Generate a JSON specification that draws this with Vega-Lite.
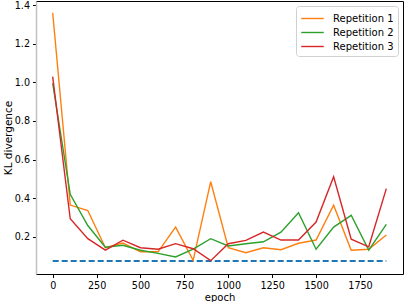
{
  "$schema": "https://vega.github.io/schema/vega-lite/v6.json",
  "autosize": "none",
  "width": 367,
  "height": 273,
  "padding": {"left": 36, "top": 1, "right": 1, "bottom": 28},
  "background": "white",
  "config": {
    "font": "DejaVu Sans",
    "view": {"stroke": "#000", "strokeWidth": 1},
    "axis": {
      "grid": false,
      "labelFont": "DejaVu Sans",
      "labelFontSize": 9.6,
      "labelColor": "#000",
      "tickColor": "#000",
      "tickSize": 3.5,
      "labelPadding": 3,
      "domainColor": "#000",
      "titleFont": "DejaVu Sans",
      "titleFontWeight": "normal",
      "titleColor": "#000",
      "titleFontSize": 10
    },
    "legend": {
      "labelFont": "DejaVu Sans",
      "labelFontSize": 10,
      "labelColor": "#000",
      "strokeColor": "#d0d0d0",
      "fillColor": "white",
      "padding": 4,
      "cornerRadius": 3,
      "symbolType": "M-1.5,0L1.5,0",
      "symbolSize": 225,
      "symbolOffset": 4,
      "symbolStrokeWidth": 1.8,
      "rowPadding": 0,
      "labelOffset": 12
    }
  },
  "datasets": {
    "runs": [
      {"epoch": 0, "kl": 1.36, "series": "Repetition 1"},
      {"epoch": 100, "kl": 0.364, "series": "Repetition 1"},
      {"epoch": 200, "kl": 0.336, "series": "Repetition 1"},
      {"epoch": 300, "kl": 0.143, "series": "Repetition 1"},
      {"epoch": 400, "kl": 0.167, "series": "Repetition 1"},
      {"epoch": 500, "kl": 0.122, "series": "Repetition 1"},
      {"epoch": 600, "kl": 0.122, "series": "Repetition 1"},
      {"epoch": 700, "kl": 0.25, "series": "Repetition 1"},
      {"epoch": 800, "kl": 0.078, "series": "Repetition 1"},
      {"epoch": 900, "kl": 0.485, "series": "Repetition 1"},
      {"epoch": 1000, "kl": 0.143, "series": "Repetition 1"},
      {"epoch": 1100, "kl": 0.117, "series": "Repetition 1"},
      {"epoch": 1200, "kl": 0.143, "series": "Repetition 1"},
      {"epoch": 1300, "kl": 0.133, "series": "Repetition 1"},
      {"epoch": 1400, "kl": 0.166, "series": "Repetition 1"},
      {"epoch": 1500, "kl": 0.183, "series": "Repetition 1"},
      {"epoch": 1600, "kl": 0.363, "series": "Repetition 1"},
      {"epoch": 1700, "kl": 0.13, "series": "Repetition 1"},
      {"epoch": 1800, "kl": 0.135, "series": "Repetition 1"},
      {"epoch": 1900, "kl": 0.209, "series": "Repetition 1"},
      {"epoch": 0, "kl": 0.995, "series": "Repetition 2"},
      {"epoch": 100, "kl": 0.42, "series": "Repetition 2"},
      {"epoch": 200, "kl": 0.258, "series": "Repetition 2"},
      {"epoch": 300, "kl": 0.146, "series": "Repetition 2"},
      {"epoch": 400, "kl": 0.156, "series": "Repetition 2"},
      {"epoch": 500, "kl": 0.13, "series": "Repetition 2"},
      {"epoch": 600, "kl": 0.114, "series": "Repetition 2"},
      {"epoch": 700, "kl": 0.095, "series": "Repetition 2"},
      {"epoch": 800, "kl": 0.136, "series": "Repetition 2"},
      {"epoch": 900, "kl": 0.19, "series": "Repetition 2"},
      {"epoch": 1000, "kl": 0.152, "series": "Repetition 2"},
      {"epoch": 1100, "kl": 0.164, "series": "Repetition 2"},
      {"epoch": 1200, "kl": 0.174, "series": "Repetition 2"},
      {"epoch": 1300, "kl": 0.224, "series": "Repetition 2"},
      {"epoch": 1400, "kl": 0.324, "series": "Repetition 2"},
      {"epoch": 1500, "kl": 0.135, "series": "Repetition 2"},
      {"epoch": 1600, "kl": 0.25, "series": "Repetition 2"},
      {"epoch": 1700, "kl": 0.311, "series": "Repetition 2"},
      {"epoch": 1800, "kl": 0.131, "series": "Repetition 2"},
      {"epoch": 1900, "kl": 0.264, "series": "Repetition 2"},
      {"epoch": 0, "kl": 1.029, "series": "Repetition 3"},
      {"epoch": 100, "kl": 0.293, "series": "Repetition 3"},
      {"epoch": 200, "kl": 0.19, "series": "Repetition 3"},
      {"epoch": 300, "kl": 0.131, "series": "Repetition 3"},
      {"epoch": 400, "kl": 0.182, "series": "Repetition 3"},
      {"epoch": 500, "kl": 0.143, "series": "Repetition 3"},
      {"epoch": 600, "kl": 0.135, "series": "Repetition 3"},
      {"epoch": 700, "kl": 0.164, "series": "Repetition 3"},
      {"epoch": 800, "kl": 0.138, "series": "Repetition 3"},
      {"epoch": 900, "kl": 0.076, "series": "Repetition 3"},
      {"epoch": 1000, "kl": 0.164, "series": "Repetition 3"},
      {"epoch": 1100, "kl": 0.181, "series": "Repetition 3"},
      {"epoch": 1200, "kl": 0.224, "series": "Repetition 3"},
      {"epoch": 1300, "kl": 0.183, "series": "Repetition 3"},
      {"epoch": 1400, "kl": 0.183, "series": "Repetition 3"},
      {"epoch": 1500, "kl": 0.276, "series": "Repetition 3"},
      {"epoch": 1600, "kl": 0.511, "series": "Repetition 3"},
      {"epoch": 1700, "kl": 0.187, "series": "Repetition 3"},
      {"epoch": 1800, "kl": 0.148, "series": "Repetition 3"},
      {"epoch": 1900, "kl": 0.449, "series": "Repetition 3"}
    ],
    "baseline": [
      {"epoch": 0, "kl": 0.074},
      {"epoch": 1900, "kl": 0.074}
    ]
  },
  "layer": [
    {
      "data": {"name": "baseline"},
      "mark": {"type": "line", "color": "#1f77b4", "strokeWidth": 2, "strokeDash": [6, 3]},
      "encoding": {
        "x": {"field": "epoch", "type": "quantitative"},
        "y": {"field": "kl", "type": "quantitative"}
      }
    },
    {
      "data": {"name": "runs"},
      "mark": {"type": "line"},
      "encoding": {
        "x": {
          "field": "epoch",
          "type": "quantitative",
          "title": "epoch",
          "scale": {"domain": [-95, 1995], "nice": false, "zero": false},
          "axis": {"values": [0, 250, 500, 750, 1000, 1250, 1500, 1750], "format": "d", "titlePadding": 2, "domain": false}
        },
        "y": {
          "field": "kl",
          "type": "quantitative",
          "title": "KL divergence",
          "scale": {"domain": [0.007, 1.421], "nice": false, "zero": false},
          "axis": {"values": [0.2, 0.4, 0.6, 0.8, 1.0, 1.2, 1.4], "format": ".1f", "titleFontSize": 10.5, "titlePadding": 1, "domainColor": "#c0c0c0", "domainWidth": 1.5}
        },
        "color": {
          "field": "series",
          "type": "nominal",
          "scale": {"domain": ["Repetition 1", "Repetition 2", "Repetition 3"], "range": ["#ff7f0e", "#2ca02c", "#d62728"]},
          "legend": {"title": null, "orient": "top-right", "offset": 5}
        },
        "strokeWidth": {
          "field": "series",
          "type": "nominal",
          "scale": {"domain": ["Repetition 1", "Repetition 2", "Repetition 3"], "range": [1.4, 1.4, 1.1]},
          "legend": null
        }
      }
    }
  ]
}
